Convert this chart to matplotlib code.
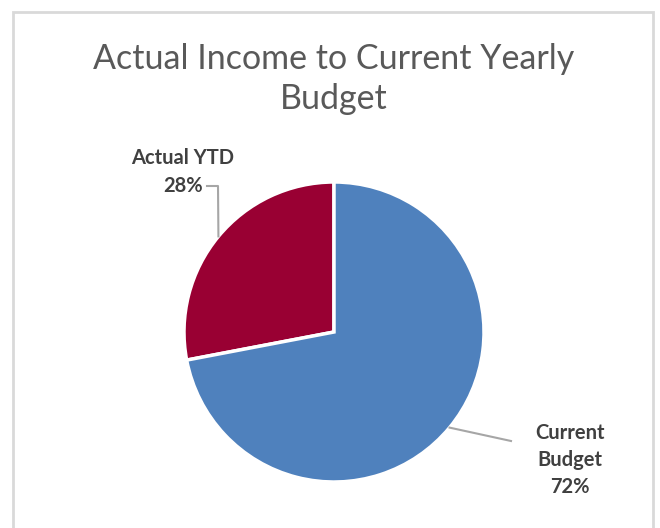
import numpy as np
import matplotlib as mpl
mpl.use('Agg')
from matplotlib import pyplot as plt

labels = ['Actual YTD', 'Current\nBudget']
shares = [28, 72]                      # percent of yearly budget
colors = ['#990033', '#4f81bd']

W, H = 660, 528
CX, CY, R = 334, H - 332, 150          # pie centre / radius in pixels

fig = plt.figure(figsize=(W / 100, H / 100), dpi=100)
ax = fig.add_axes([0, 0, 1, 1])

# chart frame (bottom edge runs off the image)
ax.plot([13, 13, 653, 653], [-5, H - 12, H - 12, -5], color='#d9d9d9', lw=2, solid_joinstyle='miter')

ax.text(CX, H - 79, 'Actual Income to Current Yearly\nBudget', ha='center', va='center',
        fontsize=24.5, color='#595959', family='Lato', linespacing=1.3)

wedges, _ = ax.pie(shares, colors=colors, startangle=90, counterclock=True,
                   center=(CX, CY), radius=R, frame=True,
                   wedgeprops=dict(edgecolor='white', linewidth=2.5))
ax.set_xlim(0, W)
ax.set_ylim(0, H)
ax.set_aspect('equal')
ax.axis('off')

# label positions (text centre) and the elbow of each leader line
label_xy = [(183, H - 172), (570, H - 460)]
elbow_xy = [[(207, H - 186), (218, H - 186)], [(511, H - 441)]]

for w, lab, share, (lx, ly), elbow in zip(wedges, labels, shares, label_xy, elbow_xy):
    mid = np.deg2rad((w.theta1 + w.theta2) / 2)
    ex, ey = CX + R * np.cos(mid), CY + R * np.sin(mid)
    pts = elbow + [(ex, ey)]
    ax.plot([p[0] for p in pts], [p[1] for p in pts], color='#a6a6a6', lw=1.5)
    ax.text(lx, ly, f'{lab}\n{share}%', ha='center', va='center', fontsize=14.5,
            fontweight='bold', color='#404040', family='Lato', linespacing=1.45)

fig.savefig('out.png', dpi=100)
